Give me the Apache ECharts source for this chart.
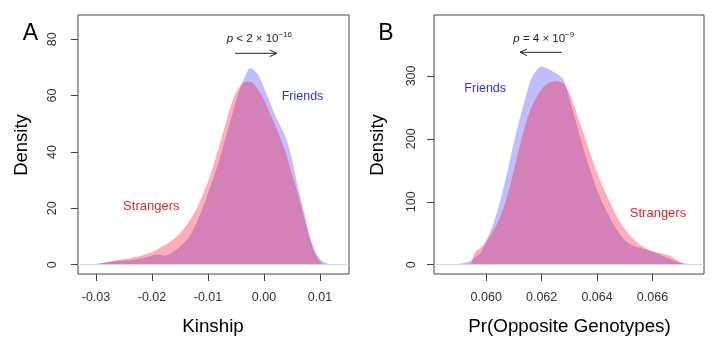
<!DOCTYPE html>
<html>
<head>
<meta charset="utf-8">
<script src="https://cdn.jsdelivr.net/npm/echarts@6/dist/echarts.min.js"></script>
<style>html,body{margin:0;padding:0;background:#fff}#c{width:720px;height:347px}</style>
</head>
<body>
<div id="c"></div>
<script>
// Panel A: Kinship density
const kinshipTicks = [-0.03, -0.02, -0.01, 0.00, 0.01];
const densityTicksA = [0, 20, 40, 60, 80];
const kinshipFriends = [
  [-0.0313,0],[-0.030,0.3],[-0.028,0.9],[-0.026,1.3],[-0.024,1.6],[-0.022,2.2],[-0.020,3.3],
  [-0.019,3.6],[-0.0178,3.2],[-0.0165,4.2],[-0.015,6.5],[-0.0135,9.5],[-0.012,15],[-0.0105,22.5],
  [-0.009,31],[-0.008,37],[-0.007,44],[-0.006,51],[-0.005,58],[-0.004,64],[-0.003,68.5],
  [-0.0025,69.7],[-0.002,69.4],[-0.001,67.2],[0.000,62.8],[0.001,58],[0.002,53],[0.003,49],
  [0.004,44.5],[0.005,37.5],[0.006,28],[0.007,20],[0.008,11.5],[0.009,5.2],[0.010,2],
  [0.011,0.7],[0.012,0.2],[0.0135,0]
];
const kinshipStrangers = [
  [-0.0302,0],[-0.028,1.0],[-0.026,1.7],[-0.024,2.3],[-0.022,3.2],[-0.020,4.5],[-0.018,6.6],
  [-0.016,9.3],[-0.014,13.5],[-0.012,20],[-0.010,29.5],[-0.009,35.5],[-0.008,42],[-0.007,49],
  [-0.006,56],[-0.005,61],[-0.004,64],[-0.003,65],[-0.002,64.5],[-0.001,62],[0.000,58.5],
  [0.001,54],[0.002,49.5],[0.003,44.5],[0.004,39],[0.005,32],[0.006,25.5],[0.007,18],
  [0.008,10.5],[0.009,4.5],[0.010,1.2],[0.0105,0]
];
// Panel B: Pr(Opposite Genotypes) density
const oppTicks = [0.060, 0.062, 0.064, 0.066];
const densityTicksB = [0, 100, 200, 300];
const oppFriends = [
  [0.0587,0],[0.0590,1],[0.0594,5],[0.0596,12],[0.0598,19],[0.0600,38],[0.0602,58],[0.0604,85],
  [0.0606,118],[0.0608,155],[0.0610,195],[0.0612,230],[0.0614,262],[0.0616,293],[0.0618,308],
  [0.0620,315],[0.0622,312],[0.0624,307],[0.0626,302],[0.0628,293],[0.0630,264],[0.0632,233],
  [0.0634,201],[0.0636,171],[0.0638,144],[0.0640,118],[0.0642,98],[0.0644,80],[0.0646,63],
  [0.0648,50],[0.0650,39],[0.0652,32.5],[0.0654,28.5],[0.0656,26],[0.0658,23.5],[0.0660,21],
  [0.0662,17.5],[0.0664,13.5],[0.0666,9.5],[0.0668,6],[0.0670,3.5],[0.0672,2],[0.0675,0.8],[0.0678,0]
];
const oppStrangers = [
  [0.05945,0],[0.0595,8],[0.0596,20],[0.0598,27],[0.0600,37],[0.0602,50],[0.0604,66],[0.0606,87],
  [0.0608,115],[0.0610,150],[0.0612,187],[0.0614,220],[0.0616,247],[0.0618,265],[0.0620,279],
  [0.0622,287],[0.0624,291],[0.0625,292],[0.0626,291],[0.0628,287],[0.0630,272],[0.0632,249],
  [0.0634,223],[0.0636,197],[0.0638,171],[0.0640,146],[0.0642,125],[0.0644,105],[0.0646,86],
  [0.0648,70],[0.0650,57],[0.0652,46],[0.0654,37],[0.0656,30],[0.0658,25],[0.0660,21],
  [0.0662,19],[0.0664,17],[0.0666,14.5],[0.0668,10],[0.0670,4],[0.0672,0]
];

const FONT = "'Liberation Sans', Arial, Helvetica, sans-serif";
const BLUE_FILL = 'rgba(0,0,255,0.25)';
const RED_FILL = 'rgba(255,0,30,0.32)';
const AXIS_COL = '#444';

function xAxisCfg(gi, min, max, ticks, dec) {
  return {
    type: 'value', gridIndex: gi, min: min, max: max, position: 'bottom',
    axisLine: { show: false, onZero: false },
    splitLine: { show: false },
    axisTick: { show: true, inside: false, length: 7, customValues: ticks, lineStyle: { color: AXIS_COL } },
    axisLabel: { customValues: ticks, margin: 17, fontSize: 12.5, fontFamily: FONT, color: '#333',
      formatter: v => v.toFixed(dec) }
  };
}
function yAxisCfg(gi, min, max, ticks, margin) {
  return {
    type: 'value', gridIndex: gi, min: min, max: max, position: 'left',
    axisLine: { show: false, onZero: false },
    splitLine: { show: false },
    axisTick: { show: true, inside: false, length: 7, customValues: ticks, lineStyle: { color: AXIS_COL } },
    axisLabel: { customValues: ticks, rotate: 90, margin: margin, fontSize: 12.5, fontFamily: FONT, color: '#333',
      formatter: v => String(v) }
  };
}
function areaSeries(xi, data, fill) {
  return {
    type: 'line', xAxisIndex: xi, yAxisIndex: xi, data: data,
    smooth: 0.3, showSymbol: false, symbol: 'none',
    lineStyle: { width: 0 }, areaStyle: { color: fill, opacity: 1 }, silent: true,
    animation: false
  };
}
function baseline() {
  return { silent: true, symbol: 'none', label: { show: false },
    lineStyle: { color: '#d8d8d8', width: 1, type: 'solid' }, data: [{ yAxis: 0 }] };
}

const sA = areaSeries(0, kinshipStrangers, RED_FILL); sA.markLine = baseline();
const sB = areaSeries(1, oppStrangers, RED_FILL); sB.markLine = baseline();

function txt(x, y, text, size, color, extra) {
  return Object.assign({ type: 'text', x: x, y: y, silent: true,
    style: { text: text, fontSize: size, fontFamily: FONT, fill: color, align: 'center', verticalAlign: 'middle' } }, extra || {});
}
function arrow(x1, x2, y) {
  const dir = x2 > x1 ? 1 : -1;
  return [
    { type: 'line', silent: true, shape: { x1: x1, y1: y, x2: x2, y2: y }, style: { stroke: '#222', lineWidth: 1 } },
    { type: 'polyline', silent: true, shape: { points: [[x2 - dir * 7, y - 3.3], [x2, y], [x2 - dir * 7, y + 3.3]] },
      style: { stroke: '#222', lineWidth: 1, fill: null } }
  ];
}
function pText(x, y, main, sup) {
  return { type: 'text', x: x, y: y, silent: true,
    style: { text: '{p|p}{m|' + main + '}{s|' + sup + '}', fontFamily: FONT, align: 'left', verticalAlign: 'middle', fill: '#222',
      rich: {
        p: { fontSize: 11.5, fontStyle: 'italic', fontFamily: FONT, fill: '#222', lineHeight: 16 },
        m: { fontSize: 11.5, fontFamily: FONT, fill: '#222', lineHeight: 16 },
        s: { fontSize: 8, fontFamily: FONT, fill: '#222', lineHeight: 7, verticalAlign: 'top' }
      } } };
}

const chart = echarts.init(document.getElementById('c'), null, { renderer: 'canvas' });
chart.setOption({
  animation: false,
  backgroundColor: '#fff',
  grid: [
    { left: 78, top: 15, width: 271, height: 259, show: true, borderColor: AXIS_COL, borderWidth: 1, backgroundColor: 'transparent' },
    { left: 434, top: 15, width: 270, height: 259, show: true, borderColor: AXIS_COL, borderWidth: 1, backgroundColor: 'transparent' }
  ],
  xAxis: [
    xAxisCfg(0, -0.03321, 0.01518, kinshipTicks, 2),
    xAxisCfg(1, 0.058117, 0.067858, oppTicks, 3)
  ],
  yAxis: [
    yAxisCfg(0, -3.3, 88.6, densityTicksA, 19),
    yAxisCfg(1, -14.8, 396.8, densityTicksB, 16)
  ],
  series: [
    areaSeries(0, kinshipFriends, BLUE_FILL), sA,
    areaSeries(1, oppFriends, BLUE_FILL), sB
  ],
  graphic: [
    txt(30.3, 33.5, 'A', 23, '#000'),
    txt(385.8, 33.5, 'B', 23, '#000'),
    txt(22, 145, 'Density', 18.5, '#000', { rotation: Math.PI / 2 }),
    txt(378, 145, 'Density', 18.5, '#000', { rotation: Math.PI / 2 }),
    txt(213, 327, 'Kinship', 18.8, '#000'),
    txt(569.5, 327, 'Pr(Opposite Genotypes)', 18.8, '#000'),
    txt(302.5, 97, 'Friends', 12.5, '#3333dd'),
    txt(151.3, 206.5, 'Strangers', 13, '#e82828'),
    txt(485.2, 88.5, 'Friends', 12.5, '#3333dd'),
    txt(658, 213, 'Strangers', 13, '#e82828'),
    pText(226.7, 39, ' < 2 × 10', '−16'),
    pText(513.3, 38.5, ' = 4 × 10', '−9'),
    ...arrow(235, 276.7, 53.3),
    ...arrow(561.7, 520, 52.3)
  ]
});
</script>
</body>
</html>
